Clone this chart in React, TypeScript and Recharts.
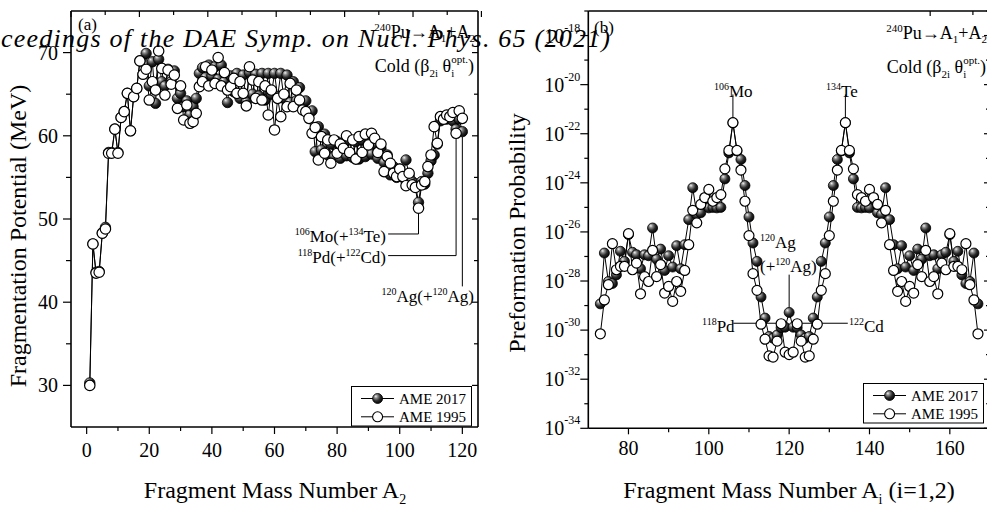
import React from 'react';
import { LineChart, Line, XAxis, YAxis, ReferenceLine, Legend } from 'recharts';

const SERIF = "'Liberation Serif', 'Times New Roman', Times, serif";

// ---------- Panel (a): fragmentation potential ----------
const fragMassA2 = [
  1, 2, 3, 4, 5, 6, 7, 8, 9, 10, 11, 12, 13, 14, 15, 16, 17, 18, 19, 20,
  21, 22, 23, 24, 25, 26, 27, 28, 29, 30, 31, 32, 33, 34, 35, 36, 37, 38, 39, 40,
  41, 42, 43, 44, 45, 46, 47, 48, 49, 50, 51, 52, 53, 54, 55, 56, 57, 58, 59, 60,
  61, 62, 63, 64, 65, 66, 67, 68, 69, 70, 71, 72, 73, 74, 75, 76, 77, 78, 79, 80,
  81, 82, 83, 84, 85, 86, 87, 88, 89, 90, 91, 92, 93, 94, 95, 96, 97, 98, 99, 100,
  101, 102, 103, 104, 105, 106, 107, 108, 109, 110, 111, 112, 113, 114, 115, 116, 117, 118, 119, 120,
];
const potentialAME2017 = [
  30.3, 47.0, 43.6, 43.7, 48.3, 49.0, 58.0, 58.0, 60.8, 58.0,
  62.2, 62.9, 65.1, 60.6, 64.7, 65.7, 69.0, 67.4, 69.9, 66.0,
  68.9, 63.9, 69.2, 66.5, 66.0, 68.0, 66.5, 67.8, 64.5, 65.1,
  63.5, 64.2, 62.5, 63.5, 64.5, 67.5, 68.2, 67.0, 68.5, 67.2,
  68.3, 66.8, 68.5, 66.5, 64.0, 67.2, 65.3, 67.5, 64.5, 67.3,
  64.1, 67.6, 65.0, 67.4, 64.8, 67.5, 64.3, 67.5, 65.0, 67.5,
  64.7, 67.5, 64.5, 67.3, 64.0, 66.5, 64.2, 65.8, 63.8, 64.2,
  62.8, 63.0, 58.1, 61.1, 58.3, 60.2, 57.7, 59.0, 57.5, 59.3,
  57.3, 59.0, 57.6, 59.5, 57.4, 59.3, 57.2, 59.5, 57.5, 59.0,
  57.8, 59.0, 57.3, 58.5, 56.8, 57.7, 55.3, 56.3, 55.0, 56.0,
  55.0, 57.1, 55.2, 54.5, 54.2, 52.0, 54.5, 54.2, 55.5, 57.0,
  57.7, 59.0, 61.8, 62.3, 62.0, 62.5, 61.8, 60.8, 62.0, 60.5,
];
const potentialAME1995 = [
  30.0, 47.0, 43.5, 43.6, 48.3, 48.8, 57.9, 57.9, 60.8, 57.9,
  62.2, 62.9, 65.1, 60.6, 64.7, 65.7, 69.0, 67.4, 68.0, 64.3,
  66.5, 65.5, 70.2, 68.1, 64.9, 67.9, 66.2, 67.3, 63.3, 66.0,
  61.9, 63.7, 61.5, 61.7, 62.7, 65.9, 66.5, 68.3, 66.0, 67.9,
  66.3, 69.4, 66.0, 67.6, 65.5, 65.9, 66.9, 65.1, 66.5, 65.1,
  63.6, 68.3, 66.7, 64.5, 66.5, 64.3, 66.0, 62.5, 65.5, 60.7,
  64.5, 62.3, 65.0, 63.5, 66.3, 63.5, 65.5, 64.3, 63.1, 62.9,
  62.1, 60.3, 61.0, 57.1, 59.9, 57.9, 59.5, 56.7, 59.5, 57.9,
  59.0, 58.5, 60.0, 58.0, 59.5, 57.2, 59.9, 58.0, 60.2, 58.9,
  60.3, 59.7, 58.0, 59.0, 55.7, 57.5, 56.7, 55.5, 55.1, 56.0,
  55.1, 54.0, 55.5, 54.1, 53.8, 51.3, 54.1, 54.5, 56.3, 57.7,
  61.1, 59.1, 62.3, 62.0, 62.5, 62.3, 62.8, 60.3, 63.0, 62.1,
];

// ---------- Panel (b): preformation probability (log10 values) ----------
const fragMassAi = [
  73, 74, 75, 76, 77, 78, 79, 80, 81, 82, 83, 84, 85, 86, 87, 88, 89, 90, 91, 92,
  93, 94, 95, 96, 97, 98, 99, 100, 101, 102, 103, 104, 105, 106, 107, 108, 109, 110, 111, 112,
  113, 114, 115, 116, 117, 118, 119, 120, 121, 122, 123, 124, 125, 126, 127, 128, 129, 130, 131, 132,
  133, 134, 135, 136, 137, 138, 139, 140, 141, 142, 143, 144, 145, 146, 147, 148, 149, 150, 151, 152,
  153, 154, 155, 156, 157, 158, 159, 160, 161, 162, 163, 164, 165, 166, 167,
];
const logP0AME2017 = [
  -28.93, -26.86, -28.02, -28.10, -27.75, -26.79, -27.20, -26.11, -26.83, -26.93,
  -27.50, -26.93, -26.97, -25.84, -27.11, -26.70, -27.57, -26.97, -27.43, -26.56,
  -27.50, -26.52, -25.50, -24.20, -25.29, -25.22, -24.68, -25.02, -25.00, -25.02,
  -25.00, -23.84, -22.78, -21.55, -22.70, -23.05, -24.11, -25.39, -26.45, -27.20,
  -28.65, -29.51, -30.26, -30.33, -30.20, -29.90, -29.88, -29.28,
  -29.88, -29.90, -30.20, -30.33, -30.26, -29.51, -28.65, -27.20, -26.45, -25.39,
  -24.11, -23.05, -22.70, -21.55, -22.78, -23.84, -25.00, -25.02, -25.00, -25.02,
  -24.68, -25.22, -25.29, -24.20, -25.50, -26.52, -27.50, -26.56, -27.43, -26.97,
  -27.57, -26.70, -27.11, -25.84, -26.97, -26.93, -27.50, -26.93, -26.83, -26.11,
  -27.20, -26.79, -27.75, -28.10, -28.02, -26.86, -28.93,
];
const logP0AME1995 = [
  -30.15, -28.77, -28.15, -26.48, -27.54, -27.40, -27.40, -26.07, -27.54, -27.27,
  -28.52, -27.82, -28.02, -26.75, -27.82, -27.33, -28.49, -28.22, -28.83, -28.02,
  -28.42, -27.57, -26.52, -25.12, -25.63, -24.88, -24.60, -24.27, -24.75, -24.60,
  -24.48, -23.43, -22.68, -21.55, -22.68, -23.48, -24.75, -26.15, -27.70, -28.38,
  -29.76, -30.37, -31.05, -31.10, -30.45, -29.74, -30.90, -31.00,
  -30.90, -29.74, -30.45, -31.10, -31.05, -30.37, -29.76, -28.38, -27.70, -26.15,
  -24.75, -23.48, -22.68, -21.55, -22.68, -23.43, -24.48, -24.60, -24.75, -24.27,
  -24.60, -24.88, -25.63, -25.12, -26.52, -27.57, -28.42, -28.02, -28.83, -28.22,
  -28.49, -27.33, -27.82, -26.75, -28.02, -27.82, -28.52, -27.27, -27.54, -26.07,
  -27.40, -27.40, -27.54, -26.48, -28.15, -28.77, -30.15,
];

// ---------- ticks / labels ----------
const xTicksA = [0, 10, 20, 30, 40, 50, 60, 70, 80, 90, 100, 110, 120];
const yTicksA = [30, 35, 40, 45, 50, 55, 60, 65, 70];
const xTicksB = [80, 90, 100, 110, 120, 130, 140, 150, 160, 170];
const yExpTicksB = [-34, -33, -32, -31, -30, -29, -28, -27, -26, -25, -24, -23, -22, -21, -20, -19, -18, -17];
const seriesNames = ['AME 2017', 'AME 1995'];

const dataA = fragMassA2.map((a, i) => ({ a, ame2017: potentialAME2017[i], ame1995: potentialAME1995[i] }));
const dataB = fragMassAi.map((a, i) => ({
  a,
  ame2017: Math.pow(10, logP0AME2017[i]),
  ame1995: Math.pow(10, logP0AME1995[i]),
}));
const yTicksB = yExpTicksB.map((e) => Math.pow(10, e));
const p = (e: number) => Math.pow(10, e);

type Side = 'bottom' | 'top' | 'left' | 'right';
const tickFactory =
  (side: Side, isMajor: (v: number) => boolean, lens: [number, number], label?: (v: number, x: number, y: number) => React.ReactNode) =>
  (props: any) => {
    const { x, y, payload } = props;
    const v = payload.value as number;
    const major = isMajor(v);
    const len = major ? lens[0] : lens[1];
    let x2 = x;
    let y2 = y;
    if (side === 'bottom' || side === 'top') y2 = y + len;
    else x2 = x - len;
    return (
      <g>
        <line x1={x} y1={y} x2={x2} y2={y2} stroke="#000" strokeWidth={1.2} />
        {major && label ? label(v, x, y) : null}
      </g>
    );
  };

const bottomLabel = (dy: number) => (v: number, x: number, y: number) => (
  <text x={x} y={y + dy} textAnchor="middle" fontSize={20} fontFamily={SERIF} fill="#000">
    {v}
  </text>
);
const leftLinLabel = (v: number, x: number, y: number) => (
  <text x={x - 13} y={y + 7} textAnchor="end" fontSize={20} fontFamily={SERIF} fill="#000">
    {v}
  </text>
);
const expOf = (v: number) => Math.round(Math.log10(v));
const leftLogLabel = (v: number, x: number, y: number) => (
  <text x={x - 8} y={y + 7} textAnchor="end" fontSize={20} fontFamily={SERIF} fill="#000">
    10
    <tspan fontSize={12} dy={-11}>{`-${-expOf(v)}`}</tspan>
  </text>
);

const AXIS_LINE = { stroke: '#000', strokeWidth: 1.6 };

const LegendBox = ({ gid }: { gid: string }) => (
  <svg width={122} height={42} style={{ display: 'block', overflow: 'visible' }}>
    <rect x={0.5} y={0.5} width={120} height={39.5} fill="#fff" stroke="#000" strokeWidth={1} />
    <line x1={10} x2={43} y1={12.5} y2={12.5} stroke="#000" strokeWidth={1} />
    <circle cx={26.6} cy={12.5} r={5} fill={`url(#${gid})`} stroke="#000" strokeWidth={0.8} />
    <text x={48} y={17.8} fontSize={15} fontFamily={SERIF} fill="#000">{seriesNames[0]}</text>
    <line x1={10} x2={43} y1={30.8} y2={30.8} stroke="#000" strokeWidth={1} />
    <circle cx={26.6} cy={30.8} r={5} fill="#fff" stroke="#000" strokeWidth={1.1} />
    <text x={48} y={36.1} fontSize={15} fontFamily={SERIF} fill="#000">{seriesNames[1]}</text>
  </svg>
);

const Sphere = ({ id }: { id: string }) => (
  <radialGradient id={id} cx="0.38" cy="0.34" r="0.7" fx="0.32" fy="0.28">
    <stop offset="0" stopColor="#f2f2f2" />
    <stop offset="0.25" stopColor="#8c8c8c" />
    <stop offset="0.6" stopColor="#2a2a2a" />
    <stop offset="1" stopColor="#000" />
  </radialGradient>
);

function PanelA() {
  return (
    <LineChart width={500} height={506} data={dataA} margin={{ top: 11, right: 22, bottom: 78, left: 70 }}>
      <defs>
        <Sphere id="sphA" />
      </defs>
      <XAxis xAxisId="b" dataKey="a" type="number" domain={[-5, 125]} allowDataOverflow ticks={xTicksA} interval={0}
        height={1} tickSize={0} tickMargin={0} tickLine={false} axisLine={AXIS_LINE}
        tick={tickFactory('bottom', (v) => v % 20 === 0, [7, 4], bottomLabel(30))} />
      <XAxis xAxisId="t" orientation="top" mirror type="number" domain={[-5, 125]} allowDataOverflow ticks={xTicksA} interval={0}
        height={1} tickSize={0} tickMargin={0} tickLine={false} axisLine={AXIS_LINE}
        tick={tickFactory('top', (v) => v % 20 === 0, [6, 4])} />
      <YAxis yAxisId="l" type="number" domain={[25, 75]} allowDataOverflow ticks={yTicksA} interval={0}
        width={1} tickSize={0} tickMargin={0} tickLine={false} axisLine={AXIS_LINE}
        tick={tickFactory('left', (v) => v % 10 === 0, [8, 5], leftLinLabel)} />
      <YAxis yAxisId="r" orientation="right" mirror type="number" domain={[25, 75]} allowDataOverflow ticks={yTicksA} interval={0}
        width={1} tickSize={0} tickMargin={0} tickLine={false} axisLine={AXIS_LINE}
        tick={tickFactory('right', (v) => v % 10 === 0, [6, 4])} />

      <ReferenceLine xAxisId="b" yAxisId="l" segment={[{ x: 96.3, y: 48.2 }, { x: 106, y: 48.2 }]} stroke="#000" strokeWidth={1} />
      <ReferenceLine xAxisId="b" yAxisId="l" segment={[{ x: 106, y: 48.2 }, { x: 106, y: 50.7 }]} stroke="#000" strokeWidth={1} />
      <ReferenceLine xAxisId="b" yAxisId="l" segment={[{ x: 96.3, y: 45.6 }, { x: 118, y: 45.6 }]} stroke="#000" strokeWidth={1} />
      <ReferenceLine xAxisId="b" yAxisId="l" segment={[{ x: 118, y: 45.6 }, { x: 118, y: 59.8 }]} stroke="#000" strokeWidth={1} />
      <ReferenceLine xAxisId="b" yAxisId="l" segment={[{ x: 120, y: 41.9 }, { x: 120, y: 59.9 }]} stroke="#000" strokeWidth={1} />

      <Line xAxisId="b" yAxisId="l" dataKey="ame2017" name={seriesNames[0]} stroke="#000" strokeWidth={1}
        dot={{ r: 5.2, fill: 'url(#sphA)', stroke: '#000', strokeWidth: 0.8 }} activeDot={false} isAnimationActive={false} />
      <Line xAxisId="b" yAxisId="l" dataKey="ame1995" name={seriesNames[1]} stroke="#000" strokeWidth={1}
        dot={{ r: 5.2, fill: '#fff', stroke: '#000', strokeWidth: 1.2 }} activeDot={false} isAnimationActive={false} />
      <Legend layout="horizontal" verticalAlign="middle" align="center"
        wrapperStyle={{ left: 351, top: 386, width: 122, height: 42 }}
        content={() => <LegendBox gid="sphA" />} />
    </LineChart>
  );
}

function PanelB() {
  return (
    <LineChart width={500} height={506} data={dataB} margin={{ top: 11, right: 10, bottom: 76.7, left: 87.3 }}>
      <defs>
        <Sphere id="sphB" />
      </defs>
      <XAxis xAxisId="b" dataKey="a" type="number" domain={[70, 170]} allowDataOverflow ticks={xTicksB} interval={0}
        height={1} tickSize={0} tickMargin={0} tickLine={false} axisLine={AXIS_LINE}
        tick={tickFactory('bottom', (v) => v % 20 === 0, [6, 4], bottomLabel(27))} />
      <XAxis xAxisId="t" orientation="top" mirror type="number" domain={[70, 170]} allowDataOverflow ticks={xTicksB} interval={0}
        height={1} tickSize={0} tickMargin={0} tickLine={false} axisLine={AXIS_LINE}
        tick={tickFactory('top', (v) => v % 20 === 0, [5, 4])} />
      <YAxis yAxisId="l" type="number" scale="log" domain={[1e-34, 1e-17]} allowDataOverflow ticks={yTicksB} interval={0}
        width={1} tickSize={0} tickMargin={0} tickLine={false} axisLine={AXIS_LINE}
        tick={tickFactory('left', (v) => expOf(v) % 2 === 0, [8, 4], leftLogLabel)} />
      <YAxis yAxisId="r" orientation="right" mirror type="number" scale="log" domain={[1e-34, 1e-17]} allowDataOverflow ticks={yTicksB} interval={0}
        width={1} tickSize={0} tickMargin={0} tickLine={false} axisLine={AXIS_LINE}
        tick={tickFactory('right', (v) => expOf(v) % 2 === 0, [6, 4])} />

      <ReferenceLine xAxisId="b" yAxisId="l" segment={[{ x: 106, y: p(-20.4) }, { x: 106, y: p(-21.35) }]} stroke="#000" strokeWidth={1} />
      <ReferenceLine xAxisId="b" yAxisId="l" segment={[{ x: 134, y: p(-20.4) }, { x: 134, y: p(-21.35) }]} stroke="#000" strokeWidth={1} />
      <ReferenceLine xAxisId="b" yAxisId="l" segment={[{ x: 120, y: p(-27.74) }, { x: 120, y: p(-29.08) }]} stroke="#000" strokeWidth={1} />
      <ReferenceLine xAxisId="b" yAxisId="l" segment={[{ x: 106.1, y: p(-29.72) }, { x: 118, y: p(-29.72) }]} stroke="#000" strokeWidth={1} />
      <ReferenceLine xAxisId="b" yAxisId="l" segment={[{ x: 122, y: p(-29.72) }, { x: 134.6, y: p(-29.72) }]} stroke="#000" strokeWidth={1} />

      <Line xAxisId="b" yAxisId="l" dataKey="ame2017" name={seriesNames[0]} stroke="#000" strokeWidth={1}
        dot={{ r: 5, fill: 'url(#sphB)', stroke: '#000', strokeWidth: 0.8 }} activeDot={false} isAnimationActive={false} />
      <Line xAxisId="b" yAxisId="l" dataKey="ame1995" name={seriesNames[1]} stroke="#000" strokeWidth={1}
        dot={{ r: 5, fill: '#fff', stroke: '#000', strokeWidth: 1.2 }} activeDot={false} isAnimationActive={false} />
      <Legend layout="horizontal" verticalAlign="middle" align="center"
        wrapperStyle={{ left: 363, top: 382.5, width: 122, height: 42 }}
        content={() => <LegendBox gid="sphB" />} />
    </LineChart>
  );
}

const Reaction = ({ x, y }: { x: number; y: number }) => (
  <text x={x} y={y} textAnchor="end" fontSize={18} fontFamily={SERIF} fill="#000">
    <tspan fontSize={11} dy={-7}>240</tspan>
    <tspan dy={7}>Pu→A</tspan>
    <tspan fontSize={11} dy={4}>1</tspan>
    <tspan dy={-4}>+A</tspan>
    <tspan fontSize={11} dy={4}>2</tspan>
  </text>
);

const Cold = ({ x, y }: { x: number; y: number }) => (
  <text x={x} y={y} textAnchor="end" fontSize={18} fontFamily={SERIF} fill="#000">
    Cold (β
    <tspan fontSize={11} dy={5}>2i</tspan>
    <tspan dy={-5}> θ</tspan>
    <tspan fontSize={11} dy={5}>i</tspan>
    <tspan fontSize={11} dx={-3} dy={-14}>opt.</tspan>
    <tspan dy={9}>)</tspan>
  </text>
);

const Nuc = ({ x, y, mass, sym }: { x: number; y: number; mass: string; sym: string }) => (
  <text x={x} y={y} fontSize={17} fontFamily={SERIF} fill="#000">
    <tspan fontSize={10} dy={-7}>{mass}</tspan>
    <tspan dy={7}>{sym}</tspan>
  </text>
);

const NucPair = ({ x, y, m1, s1, m2, s2 }: { x: number; y: number; m1: string; s1: string; m2: string; s2: string }) => (
  <text x={x} y={y} textAnchor="end" fontSize={17} fontFamily={SERIF} fill="#000">
    <tspan fontSize={10} dy={-7}>{m1}</tspan>
    <tspan dy={7}>{`${s1}(+`}</tspan>
    <tspan fontSize={10} dy={-7}>{m2}</tspan>
    <tspan dy={7}>{`${s2})`}</tspan>
  </text>
);

export default function App() {
  return (
    <div style={{ position: 'absolute', left: 0, top: 0, width: 987, height: 506, overflow: 'hidden', background: '#fff', fontFamily: SERIF }}>
      <div style={{ position: 'absolute', left: 0, top: 0 }}>
        <PanelA />
      </div>
      <div style={{ position: 'absolute', left: 500, top: 0 }}>
        <PanelB />
      </div>
      <svg width={987} height={506} style={{ position: 'absolute', left: 0, top: 0, pointerEvents: 'none' }}>
        {/* panel (a) texts */}
        <text x={78} y={30} fontSize={17} fontFamily={SERIF}>(a)</text>
        <Reaction x={475} y={38} />
        <Cold x={474} y={72} />
        <NucPair x={386} y={242} m1="106" s1="Mo" m2="134" s2="Te" />
        <NucPair x={386} y={263} m1="118" s1="Pd" m2="122" s2="Cd" />
        <NucPair x={474} y={302} m1="120" s1="Ag" m2="120" s2="Ag" />
        <text transform="translate(26,236) rotate(-90)" textAnchor="middle" fontSize={24} fontFamily={SERIF}>
          Fragmentation Potential (MeV)
        </text>
        <text x={275} y={498} textAnchor="middle" fontSize={24} fontFamily={SERIF}>
          Fragment Mass Number A<tspan fontSize={14} dy={6}>2</tspan>
        </text>

        {/* panel (b) texts */}
        <text x={594} y={33} fontSize={17} fontFamily={SERIF}>(b)</text>
        <Reaction x={987} y={39} />
        <Cold x={986} y={72.5} />
        <Nuc x={714} y={97} mass="106" sym="Mo" />
        <Nuc x={826} y={97} mass="134" sym="Te" />
        <Nuc x={760} y={248} mass="120" sym="Ag" />
        <text x={760} y={272} fontSize={17} fontFamily={SERIF}>
          (+<tspan fontSize={10} dy={-7}>120</tspan>
          <tspan dy={7}>Ag)</tspan>
        </text>
        <Nuc x={702} y={332} mass="118" sym="Pd" />
        <Nuc x={849} y={332} mass="122" sym="Cd" />
        <text transform="translate(525,233) rotate(-90)" textAnchor="middle" fontSize={24} fontFamily={SERIF}>
          Preformation Probability
        </text>
        <text x={789} y={498} textAnchor="middle" fontSize={24} fontFamily={SERIF}>
          Fragment Mass Number A<tspan fontSize={14} dy={6}>i</tspan>
          <tspan dy={-6}> (i=1,2)</tspan>
        </text>

        {/* proceedings watermark */}
        <text x={1} y={47} fontSize={26} fontStyle="italic" fontFamily={SERIF} textLength={609} lengthAdjust="spacing">
          ceedings of the DAE Symp. on Nucl. Phys. 65 (2021)
        </text>
      </svg>
    </div>
  );
}
